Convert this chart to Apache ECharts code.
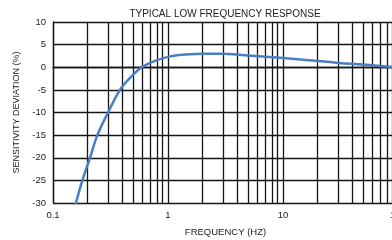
<!DOCTYPE html>
<html><head><meta charset="utf-8">
<script src="https://cdn.jsdelivr.net/npm/echarts@6/dist/echarts.min.js"></script>
<style>html,body{margin:0;padding:0;background:#fff}#c{width:392px;height:240px}</style>
</head><body><div id="c"></div>
<script>
const frequencies = [0.15, 0.18, 0.21, 0.243, 0.301, 0.382, 0.461, 0.591, 0.771, 1.04, 1.41, 2.0, 2.83, 5.0, 10, 20, 30.6, 49.8, 88.8, 100];
const deviation   = [-32.2, -25, -20, -15, -10, -5, -2.5, 0, 1.4, 2.4, 2.8, 3.0, 3.0, 2.6, 2.05, 1.4, 0.95, 0.6, 0.07, -0.05];
const yTicks = [-30, -25, -20, -15, -10, -5, 0, 5, 10];
const xMajor = [0.1, 1, 10, 100];
const xMinor = [0.2,0.3,0.4,0.5,0.6,0.7,0.8,0.9,2,3,4,5,6,7,8,9,20,30,40,50,60,70,80,90];
const titleText = 'TYPICAL LOW FREQUENCY RESPONSE';
const xName = 'FREQUENCY (HZ)';
const yName = 'SENSITIVITY DEVIATION (%)';

const font = 'Liberation Sans';
const gridColor = '#151515';
const chart = echarts.init(document.getElementById('c'), null, {renderer:'canvas'});
chart.setOption({
  animation:false,
  title:{text:titleText, left:220, top:4, textAlign:'center',
    textStyle:{fontFamily:font, fontSize:10, fontWeight:'normal', color:'#222'}},
  grid:{left:53, top:22, width:345, height:181, containLabel:false, outerBoundsMode:'none'},
  xAxis:{type:'log', logBase:10, min:xMajor[0], max:xMajor[xMajor.length-1],
    name:xName, nameLocation:'middle', nameGap:24,
    nameTextStyle:{fontFamily:font, fontSize:9.5, color:'#222'},
    axisLine:{show:true, lineStyle:{color:gridColor, width:1.3}},
    axisTick:{show:false},
    axisLabel:{fontFamily:font, fontSize:9.5, color:'#222', margin:7},
    splitLine:{show:true, lineStyle:{color:gridColor, width:1.3}},
    minorTick:{show:false}, minorSplitLine:{show:false}},
  yAxis:{type:'value', min:yTicks[0], max:yTicks[yTicks.length-1], interval:5,
    name:yName, nameLocation:'middle', nameGap:30, nameRotate:90,
    nameTextStyle:{fontFamily:font, fontSize:9, color:'#222'},
    axisLine:{show:true, lineStyle:{color:gridColor, width:1.3}},
    axisTick:{show:false},
    axisLabel:{fontFamily:font, fontSize:9.5, color:'#222', margin:7},
    splitLine:{show:true, lineStyle:{color:gridColor, width:1.3}}},
  series:[{type:'line', data:frequencies.map((f,i)=>[f, deviation[i]]),
    smooth:0.35, showSymbol:false, clip:true,
    lineStyle:{color:'#4a7ec2', width:2.5},
    z:5,
    markLine:{silent:true, symbol:'none', label:{show:false},
      lineStyle:{color:gridColor, width:1.3, type:'solid'},
      data:xMinor.map(v=>({xAxis:v})), z:1}
  }]
});
</script></body></html>
